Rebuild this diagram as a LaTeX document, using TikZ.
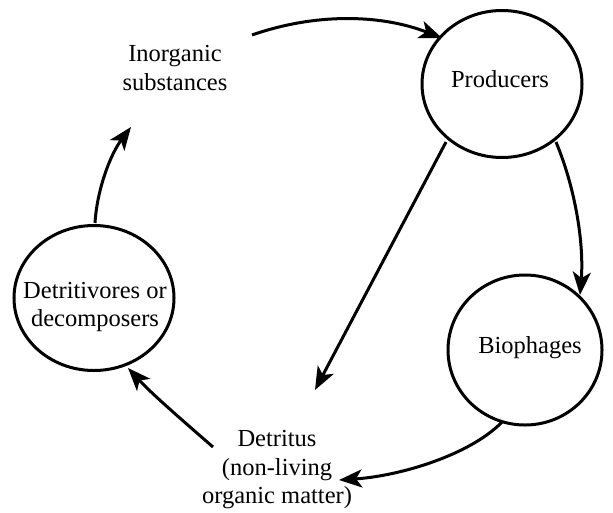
\documentclass[tikz,border=0pt]{standalone}
\usepackage{fontspec}
\setmainfont{Liberation Serif}
\usetikzlibrary{arrows.meta,shapes.geometric}
\begin{document}
\begin{tikzpicture}[x=1pt,y=-1pt,
  label text/.style={font=\fontsize{24.5}{28.5}\selectfont, align=center, inner sep=0pt},
  pool/.style={ellipse, draw, line width=3pt, inner sep=0pt},
  flow/.style={line width=3pt, -{Stealth[length=23pt,width=18pt,inset=6pt]}}
]
\useasboundingbox (0,0) rectangle (613,512);

% compartments drawn as circles
\node[pool, minimum width=160pt, minimum height=147pt] (prod) at (502,84) {};
\node[pool, minimum width=154pt, minimum height=150pt] (bio) at (525,350) {};
\node[pool, minimum width=160pt, minimum height=145pt] (decomp) at (94,298) {};

% labels
\node[label text] at (500,79) {Producers};
\node[label text] at (530,348) {Biophages};
\node[label text] at (95,307) {Detritivores or\\decomposers};
\node[label text] (inorg) at (175,68) {Inorganic\\substances};
\node[label text] (detr) at (277,470) {Detritus\\(non-living\\organic matter)};

% free ends of the connectors
\coordinate (a1) at (252,35);
\coordinate (a2) at (442,38);
\coordinate (b1) at (556,142);
\coordinate (b2) at (580,295);
\coordinate (c1) at (446,142);
\coordinate (c2) at (315,390);
\coordinate (d1) at (502,422);
\coordinate (d2) at (339,480);
\coordinate (e1) at (213,447);
\coordinate (e2) at (128,368);
\coordinate (f1) at (95,223);
\coordinate (f2) at (131,127);

% nutrient and energy flows
\draw[flow] (a1) .. controls (315,13) and (380,14) .. (a2);
\draw[flow] (b1) .. controls (576,190) and (584,245) .. (b2);
\draw[flow] (c1) -- (c2);
\draw[flow] (d1) .. controls (470,455) and (400,476) .. (d2);
\draw[flow] (e1) .. controls (182,420) and (152,394) .. (e2);
\draw[flow] (f1) .. controls (97,190) and (110,155) .. (f2);
\end{tikzpicture}
\end{document}
